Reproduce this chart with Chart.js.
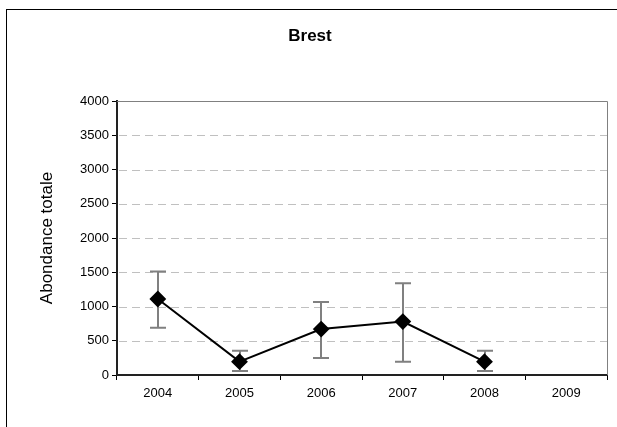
<!DOCTYPE html>
<html>
<head>
<meta charset="utf-8">
<script src="https://cdn.jsdelivr.net/npm/chart.js@4"></script>
<style>
  html, body { margin: 0; padding: 0; background: #fff; overflow: hidden; }
  #wrap { width: 617px; height: 427px; }
</style>
</head>
<body>
<div id="wrap"><canvas id="abondance-chart" width="617" height="427"></canvas></div>
<script>
// Abondance totale par année - station de Brest
const titre = 'Brest';
const years = ['2004', '2005', '2006', '2007', '2008', '2009'];
const abondance = [1110, 195, 670, 780, 195, null];
const errHaut = [1510, 355, 1065, 1340, 355, null];
const errBas = [690, 60, 250, 195, 60, null];
const yTicks = [0, 500, 1000, 1500, 2000, 2500, 3000, 3500, 4000];

const FONT = 'Liberation Sans, Arial, sans-serif';

// fond, cadre extérieur, titre, quadrillage pointillé et bord haut/droit
const framePlugin = {
    id: 'frame',
    beforeDraw(chart) {
        const { ctx, chartArea: a } = chart;
        const y = chart.scales.y;
        ctx.save();
        ctx.fillStyle = '#fff';
        ctx.fillRect(0, 0, chart.width, chart.height);
        ctx.strokeStyle = '#000';
        ctx.lineWidth = 1;
        ctx.strokeRect(6.5, 9.5, 1000, 1000);

        ctx.fillStyle = '#000';
        ctx.font = 'bold 17px ' + FONT;
        ctx.textAlign = 'center';
        ctx.textBaseline = 'middle';
        ctx.fillText(titre, 310, 36);

        ctx.strokeStyle = '#c0c0c0';
        ctx.setLineDash([8, 5]);
        yTicks.forEach(v => {
            if (v === 0 || v === 4000) return;
            const py = Math.round(y.getPixelForValue(v)) + 0.5;
            ctx.beginPath();
            ctx.moveTo(a.left + 2, py);
            ctx.lineTo(a.right, py);
            ctx.stroke();
        });
        ctx.restore();
    },
    afterDraw(chart) {
        const { ctx, chartArea: a } = chart;
        ctx.save();
        ctx.strokeStyle = '#808080';
        ctx.lineWidth = 1;
        ctx.beginPath();
        ctx.moveTo(a.left, Math.round(a.top) + 0.5);
        ctx.lineTo(Math.round(a.right) + 0.5, Math.round(a.top) + 0.5);
        ctx.lineTo(Math.round(a.right) + 0.5, a.bottom);
        ctx.stroke();
        ctx.restore();
    }
};

// barres d'erreur (min / max) sous la courbe
const errorBarsPlugin = {
    id: 'errorBars',
    beforeDatasetsDraw(chart) {
        const ctx = chart.ctx;
        const x = chart.scales.x;
        const y = chart.scales.y;
        ctx.save();
        ctx.strokeStyle = '#808080';
        ctx.lineWidth = 2;
        years.forEach((yr, i) => {
            if (errHaut[i] == null) return;
            const px = Math.round(x.getPixelForValue(i));
            const top = y.getPixelForValue(errHaut[i]);
            const bot = y.getPixelForValue(errBas[i]);
            ctx.beginPath();
            ctx.moveTo(px, top);
            ctx.lineTo(px, bot);
            ctx.moveTo(px - 8, top);
            ctx.lineTo(px + 8, top);
            ctx.moveTo(px - 8, bot);
            ctx.lineTo(px + 8, bot);
            ctx.stroke();
        });
        ctx.restore();
    }
};

new Chart(document.getElementById('abondance-chart').getContext('2d'), {
    type: 'line',
    data: {
        labels: years,
        datasets: [{
            label: 'Abondance totale',
            data: abondance,
            borderColor: '#000',
            borderWidth: 2,
            backgroundColor: '#000',
            pointStyle: 'rectRot',
            pointRadius: 7,
            pointBackgroundColor: '#000',
            pointBorderColor: '#000',
            tension: 0,
            fill: false
        }]
    },
    options: {
        responsive: false,
        animation: false,
        devicePixelRatio: 1,
        layout: { padding: { left: 0, right: 10, top: 101, bottom: 0 } },
        plugins: {
            legend: { display: false },
            tooltip: { enabled: false },
            title: { display: false }
        },
        scales: {
            x: {
                type: 'category',
                offset: true,
                grid: {
                    offset: true,
                    drawOnChartArea: false,
                    drawTicks: true,
                    tickLength: 5,
                    tickColor: '#000'
                },
                border: { color: '#222', width: 2 },
                ticks: {
                    color: '#000',
                    font: { family: FONT, size: 13 },
                    padding: 6,
                    maxRotation: 0
                },
                afterFit: (s) => { s.height = 52; }
            },
            y: {
                min: 0,
                max: 4000,
                afterBuildTicks: (s) => { s.ticks = yTicks.map(v => ({ value: v })); },
                grid: {
                    drawOnChartArea: false,
                    tickLength: 5,
                    tickColor: '#000'
                },
                border: { color: '#222', width: 2 },
                ticks: {
                    color: '#000',
                    font: { family: FONT, size: 13 },
                    padding: 3,
                    callback: (v) => String(v)
                },
                title: {
                    display: true,
                    text: 'Abondance totale',
                    color: '#000',
                    font: { family: FONT, size: 17, lineHeight: 1.2 },
                    padding: { top: 37, bottom: 0 }
                },
                afterFit: (s) => { s.width = 117; }
            }
        }
    },
    plugins: [framePlugin, errorBarsPlugin]
});
</script>
</body>
</html>
